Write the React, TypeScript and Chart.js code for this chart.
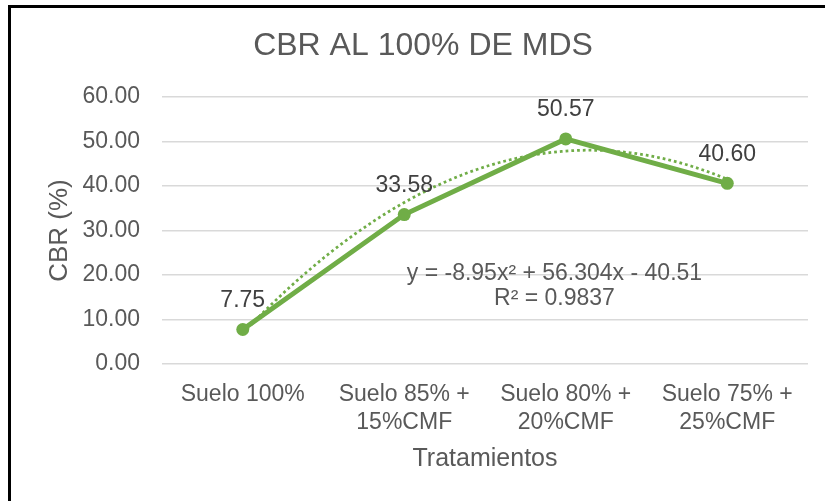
import React, { useEffect, useRef } from "react";
import { Chart, registerables } from "chart.js";

Chart.register(...registerables);

const FONT = "'Liberation Sans', Arial, sans-serif";

const TITLE = "CBR AL 100% DE MDS";
const X_TITLE = "Tratamientos";
const Y_TITLE = "CBR (%)";
const CATEGORIES: (string | string[])[] = [
  "Suelo 100%",
  ["Suelo 85% +", "15%CMF"],
  ["Suelo 80% +", "20%CMF"],
  ["Suelo 75% +", "25%CMF"],
];
const CBR_VALUES = [7.75, 33.58, 50.57, 40.6];
const Y_MIN = 0;
const Y_MAX = 60;
const Y_STEP = 10;

// Excel polynomial trendline (order 2) shown on the chart: y = a x^2 + b x + c
const TREND_COEF = [-8.95, 56.304, -40.51];
const TREND_RANGE = [1, 4];
const EQUATION = "y = -8.95x² + 56.304x - 40.51";
const R_SQUARED = "R² = 0.9837";
const EQ_ANCHOR = { x: 2.93, y: 20.3 };

const GREEN = "#70AD47";
const TEXT = "#595959";
const LABEL = "#404040";
const GRID = "#D9D9D9";

function trendPoints() {
  const pts: { x: number; y: number }[] = [];
  const n = 120;
  for (let i = 0; i <= n; i++) {
    const x = TREND_RANGE[0] + ((TREND_RANGE[1] - TREND_RANGE[0]) * i) / n;
    pts.push({ x, y: TREND_COEF[0] * x * x + TREND_COEF[1] * x + TREND_COEF[2] });
  }
  return pts;
}

const overlay = {
  id: "overlay",
  afterDatasetsDraw(chart: any) {
    const ctx = chart.ctx;
    const meta = chart.getDatasetMeta(0);
    ctx.save();
    ctx.font = `23px ${FONT}`;
    ctx.fillStyle = LABEL;
    ctx.textAlign = "center";
    ctx.textBaseline = "middle";
    meta.data.forEach((pt: any, i: number) => {
      ctx.fillText(CBR_VALUES[i].toFixed(2), pt.x, pt.y - 29);
    });
    const xs = chart.scales.x2;
    const ys = chart.scales.y;
    const ex = xs.getPixelForValue(EQ_ANCHOR.x);
    const ey = ys.getPixelForValue(EQ_ANCHOR.y);
    ctx.fillStyle = TEXT;
    ctx.font = `23px ${FONT}`;
    ctx.fillText(EQUATION, ex, ey);
    ctx.fillText(R_SQUARED, ex, ey + 25);
    ctx.restore();
  },
  afterDraw(chart: any) {
    const ctx = chart.ctx;
    ctx.save();
    // chart title
    ctx.font = `32px ${FONT}`;
    ctx.fillStyle = TEXT;
    ctx.textAlign = "center";
    ctx.textBaseline = "middle";
    ctx.fillText(TITLE, chart.chartArea.left + 261, chart.chartArea.top - 51);
    // outer frame
    ctx.fillStyle = "#000000";
    ctx.fillRect(8, 5, 3, chart.height - 5);
    ctx.fillRect(8, 5, chart.width - 8, 3);
    ctx.restore();
  },
};

export default function App() {
  const ref = useRef<HTMLCanvasElement | null>(null);

  useEffect(() => {
    if (!ref.current) return;
    Chart.defaults.font.family = FONT;
    const chart = new Chart(ref.current, {
      type: "line",
      data: {
        labels: CATEGORIES as any,
        datasets: [
          {
            label: "CBR",
            data: CBR_VALUES,
            xAxisID: "x",
            yAxisID: "y",
            borderColor: GREEN,
            backgroundColor: GREEN,
            borderWidth: 5,
            pointRadius: 6.5,
            pointBackgroundColor: GREEN,
            pointBorderWidth: 0,
            tension: 0,
          },
          {
            label: "Tendencia",
            data: trendPoints() as any,
            xAxisID: "x2",
            yAxisID: "y",
            borderColor: GREEN,
            borderWidth: 2.75,
            borderDash: [2.75, 3],
            pointRadius: 0,
            tension: 0,
          },
        ],
      },
      options: {
        animation: false,
        responsive: false,
        layout: { padding: { left: 0, right: 17, top: 97, bottom: 0 } },
        plugins: {
          legend: { display: false },
          tooltip: { enabled: false },
          title: { display: false },
        },
        scales: {
          x: {
            type: "category",
            offset: true,
            grid: { display: false, drawTicks: false },
            border: { display: false },
            ticks: {
              color: TEXT,
              font: { family: FONT, size: 23 },
              padding: 17,
              maxRotation: 0,
              autoSkip: false,
            },
            title: {
              display: true,
              text: X_TITLE,
              color: TEXT,
              font: { family: FONT, size: 25 },
              padding: { top: 0, bottom: 27 },
            },
            afterFit: (s: any) => {
              s.height = 137;
            },
          },
          x2: {
            type: "linear",
            display: false,
            min: 0.5,
            max: 4.5,
          },
          y: {
            min: Y_MIN,
            max: Y_MAX,
            ticks: {
              stepSize: Y_STEP,
              color: TEXT,
              font: { family: FONT, size: 23 },
              padding: 22,
              callback: (v: any) => Number(v).toFixed(2),
            },
            grid: { color: GRID, lineWidth: 1.5, drawTicks: false },
            border: { display: false },
            title: {
              display: true,
              text: Y_TITLE,
              color: TEXT,
              font: { family: FONT, size: 26 },
              padding: { top: 44.4, bottom: 0 },
            },
            afterFit: (s: any) => {
              s.width = 162;
            },
          },
        },
      } as any,
      plugins: [overlay],
    });
    return () => chart.destroy();
  }, []);

  return (
    <div style={{ position: "absolute", left: 0, top: 0, width: 825, height: 501, background: "#fff" }}>
      <canvas ref={ref} width={825} height={501} style={{ width: 825, height: 501, display: "block" }} />
    </div>
  );
}
